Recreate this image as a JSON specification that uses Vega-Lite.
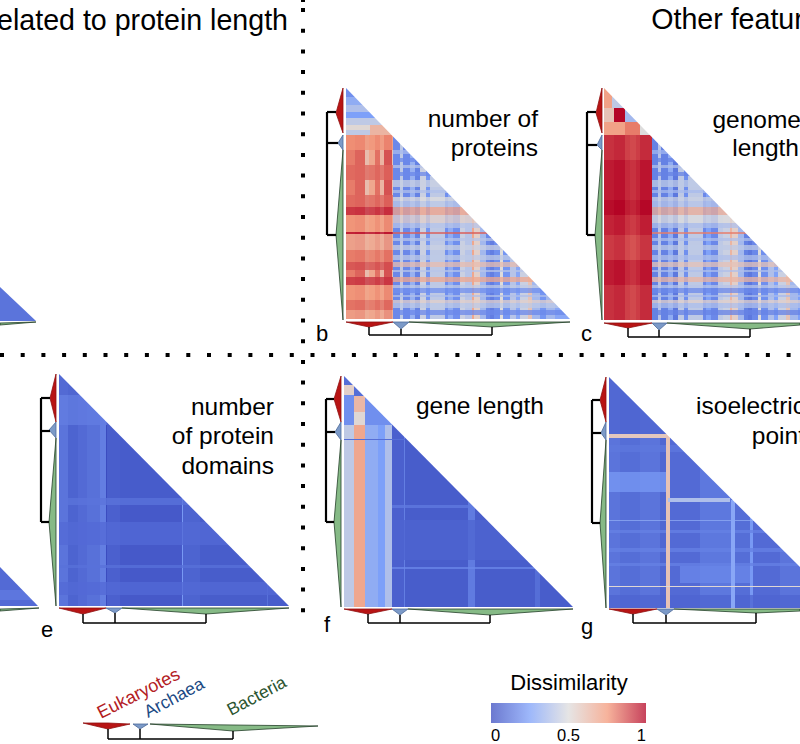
{"$schema":"https://vega.github.io/schema/vega-lite/v6.json","width":800,"height":744,"padding":0,"autosize":{"type":"none"},"background":"white","config":{"font":"Liberation Sans","view":{"stroke":null}},
"datasets":{
"cols":[
{"x":0,"x2":36,"y":287,"y2":321,"v":0.12},{"x":0,"x2":38,"y":567,"y2":606,"v":0.09},
{"x":346,"x2":355,"y":135,"y2":319,"v":0.8},{"x":355,"x2":365,"y":135,"y2":319,"v":0.84},{"x":365,"x2":369,"y":135,"y2":319,"v":0.62},{"x":369,"x2":375,"y":135,"y2":319,"v":0.7},{"x":375,"x2":380,"y":135,"y2":319,"v":0.82},{"x":380,"x2":384,"y":135,"y2":319,"v":0.65},{"x":384,"x2":392,"y":135,"y2":319,"v":0.87},{"x":392,"x2":393,"y":135,"y2":319,"v":0.6},
{"x":393,"x2":400,"y":88,"y2":319,"v":0.18},{"x":400,"x2":403,"y":88,"y2":319,"v":0.42},{"x":403,"x2":410,"y":88,"y2":319,"v":0.18},{"x":410,"x2":415,"y":88,"y2":319,"v":0.32},{"x":415,"x2":420,"y":88,"y2":319,"v":0.16},{"x":420,"x2":426,"y":88,"y2":319,"v":0.45},{"x":426,"x2":430,"y":88,"y2":319,"v":0.22},{"x":430,"x2":445,"y":88,"y2":319,"v":0.42},{"x":445,"x2":448,"y":88,"y2":319,"v":0.2},{"x":448,"x2":453,"y":88,"y2":319,"v":0.3},{"x":453,"x2":460,"y":88,"y2":319,"v":0.2},{"x":460,"x2":465,"y":88,"y2":319,"v":0.45},{"x":465,"x2":472,"y":88,"y2":319,"v":0.4},{"x":472,"x2":474,"y":88,"y2":319,"v":0.7},{"x":474,"x2":480,"y":88,"y2":319,"v":0.55},{"x":480,"x2":486,"y":88,"y2":319,"v":0.35},{"x":486,"x2":490,"y":88,"y2":319,"v":0.18},{"x":490,"x2":494,"y":88,"y2":319,"v":0.15},{"x":494,"x2":500,"y":88,"y2":319,"v":0.2},{"x":500,"x2":503,"y":88,"y2":319,"v":0.5},{"x":503,"x2":510,"y":88,"y2":319,"v":0.22},{"x":510,"x2":516,"y":88,"y2":319,"v":0.4},{"x":516,"x2":520,"y":88,"y2":319,"v":0.28},{"x":520,"x2":528,"y":88,"y2":319,"v":0.45},{"x":528,"x2":532,"y":88,"y2":319,"v":0.6},{"x":532,"x2":540,"y":88,"y2":319,"v":0.35},{"x":540,"x2":546,"y":88,"y2":319,"v":0.22},{"x":546,"x2":555,"y":88,"y2":319,"v":0.35},{"x":555,"x2":570,"y":88,"y2":319,"v":0.28},
{"x":604,"x2":614,"y":135,"y2":320,"v":0.94},{"x":614,"x2":625,"y":135,"y2":320,"v":1},{"x":625,"x2":630,"y":135,"y2":320,"v":0.84},{"x":630,"x2":636,"y":135,"y2":320,"v":0.78},{"x":636,"x2":640,"y":135,"y2":320,"v":0.86},{"x":640,"x2":652,"y":135,"y2":320,"v":0.98},
{"x":652,"x2":658,"y":88,"y2":320,"v":0.16},{"x":658,"x2":661,"y":88,"y2":320,"v":0.4},{"x":661,"x2":668,"y":88,"y2":320,"v":0.16},{"x":668,"x2":673,"y":88,"y2":320,"v":0.3},{"x":673,"x2":678,"y":88,"y2":320,"v":0.13},{"x":678,"x2":684,"y":88,"y2":320,"v":0.42},{"x":684,"x2":688,"y":88,"y2":320,"v":0.2},{"x":688,"x2":703,"y":88,"y2":320,"v":0.42},{"x":703,"x2":706,"y":88,"y2":320,"v":0.18},{"x":706,"x2":711,"y":88,"y2":320,"v":0.26},{"x":711,"x2":718,"y":88,"y2":320,"v":0.18},{"x":718,"x2":723,"y":88,"y2":320,"v":0.42},{"x":723,"x2":730,"y":88,"y2":320,"v":0.45},{"x":730,"x2":732,"y":88,"y2":320,"v":0.65},{"x":732,"x2":738,"y":88,"y2":320,"v":0.55},{"x":738,"x2":744,"y":88,"y2":320,"v":0.35},{"x":744,"x2":748,"y":88,"y2":320,"v":0.16},{"x":748,"x2":752,"y":88,"y2":320,"v":0.13},{"x":752,"x2":758,"y":88,"y2":320,"v":0.18},{"x":758,"x2":761,"y":88,"y2":320,"v":0.5},{"x":761,"x2":768,"y":88,"y2":320,"v":0.2},{"x":768,"x2":774,"y":88,"y2":320,"v":0.38},{"x":774,"x2":778,"y":88,"y2":320,"v":0.26},{"x":778,"x2":786,"y":88,"y2":320,"v":0.45},{"x":786,"x2":790,"y":88,"y2":320,"v":0.6},{"x":790,"x2":798,"y":88,"y2":320,"v":0.35},{"x":798,"x2":800,"y":88,"y2":320,"v":0.25},
{"x":59,"x2":68,"y":374,"y2":606,"v":0.12},{"x":68,"x2":78,"y":374,"y2":606,"v":0.07},{"x":78,"x2":87,"y":374,"y2":606,"v":0.09},{"x":87,"x2":100,"y":374,"y2":606,"v":0.11},{"x":100,"x2":106,"y":374,"y2":606,"v":0.15},{"x":106,"x2":107,"y":374,"y2":606,"v":0},{"x":107,"x2":120,"y":374,"y2":606,"v":0.06},{"x":120,"x2":182,"y":374,"y2":606,"v":0.04},{"x":182,"x2":183,"y":374,"y2":606,"v":0.23},{"x":183,"x2":200,"y":374,"y2":606,"v":0.07},{"x":200,"x2":267,"y":374,"y2":606,"v":0.05},{"x":267,"x2":268,"y":374,"y2":606,"v":0.11},{"x":268,"x2":289,"y":374,"y2":606,"v":0.05},
{"x":344,"x2":354,"y":425,"y2":607,"v":0.42},{"x":354,"x2":365,"y":425,"y2":607,"v":0.7},{"x":365,"x2":378,"y":425,"y2":607,"v":0.3},{"x":378,"x2":385,"y":425,"y2":607,"v":0.25},{"x":385,"x2":392,"y":425,"y2":607,"v":0.38},{"x":392,"x2":404,"y":376,"y2":607,"v":0.06},{"x":404,"x2":405,"y":376,"y2":607,"v":0.15},{"x":405,"x2":468,"y":376,"y2":607,"v":0.05},{"x":468,"x2":475,"y":376,"y2":607,"v":0.14},{"x":475,"x2":535,"y":376,"y2":607,"v":0.05},{"x":535,"x2":540,"y":376,"y2":607,"v":0.1},{"x":540,"x2":573,"y":376,"y2":607,"v":0.05},
{"x":609,"x2":620,"y":377,"y2":608,"v":0.12},{"x":620,"x2":640,"y":377,"y2":608,"v":0.1},{"x":640,"x2":660,"y":377,"y2":608,"v":0.12},{"x":660,"x2":666,"y":377,"y2":608,"v":0.08},{"x":666,"x2":670,"y":377,"y2":608,"v":0.08},{"x":670,"x2":700,"y":377,"y2":608,"v":0.09},{"x":700,"x2":731,"y":377,"y2":608,"v":0.13},{"x":731,"x2":735,"y":377,"y2":608,"v":0.1},{"x":735,"x2":750,"y":377,"y2":608,"v":0.1},{"x":750,"x2":753,"y":377,"y2":608,"v":0.23},{"x":753,"x2":780,"y":377,"y2":608,"v":0.09},{"x":780,"x2":800,"y":377,"y2":608,"v":0.12}
],
"rows":[
{"x":346,"x2":393,"y":135,"y2":150,"v":0.76},{"x":346,"x2":393,"y":165,"y2":180,"v":0.84},{"x":346,"x2":393,"y":195,"y2":207,"v":0.84},{"x":346,"x2":393,"y":207,"y2":215,"v":0.95},{"x":346,"x2":393,"y":215,"y2":232,"v":0.74},{"x":346,"x2":393,"y":232,"y2":234,"v":1},{"x":346,"x2":393,"y":234,"y2":250,"v":0.68},{"x":346,"x2":393,"y":250,"y2":262,"v":0.8},{"x":346,"x2":393,"y":262,"y2":270,"v":0.88},{"x":346,"x2":393,"y":277,"y2":285,"v":0.93},{"x":346,"x2":393,"y":285,"y2":300,"v":0.74},{"x":346,"x2":393,"y":300,"y2":310,"v":0.82},{"x":346,"x2":393,"y":310,"y2":319,"v":0.7},
{"x":393,"x2":570,"y":150,"y2":154,"v":0.36},{"x":393,"x2":570,"y":158,"y2":162,"v":0.18},{"x":393,"x2":570,"y":165,"y2":168,"v":0.4},{"x":393,"x2":570,"y":172,"y2":176,"v":0.18},{"x":393,"x2":570,"y":180,"y2":187,"v":0.45},{"x":393,"x2":570,"y":190,"y2":193,"v":0.38},{"x":393,"x2":570,"y":197,"y2":201,"v":0.5},{"x":393,"x2":570,"y":201,"y2":207,"v":0.42},{"x":393,"x2":570,"y":207,"y2":215,"v":0.72},{"x":393,"x2":570,"y":215,"y2":223,"v":0.55},{"x":393,"x2":570,"y":223,"y2":228,"v":0.4},{"x":393,"x2":570,"y":232,"y2":234,"v":0.85},{"x":393,"x2":570,"y":238,"y2":241,"v":0.4},{"x":393,"x2":570,"y":245,"y2":250,"v":0.45},{"x":393,"x2":570,"y":255,"y2":260,"v":0.42},{"x":393,"x2":570,"y":262,"y2":267,"v":0.62},{"x":393,"x2":570,"y":270,"y2":272,"v":0.4},{"x":393,"x2":570,"y":277,"y2":282,"v":0.7},{"x":393,"x2":570,"y":285,"y2":288,"v":0.42},{"x":393,"x2":570,"y":288,"y2":293,"v":0.2},{"x":393,"x2":570,"y":295,"y2":297,"v":0.38},{"x":393,"x2":570,"y":300,"y2":303,"v":0.55},{"x":393,"x2":570,"y":303,"y2":308,"v":0.42},{"x":393,"x2":570,"y":310,"y2":315,"v":0.18},
{"x":604,"x2":652,"y":135,"y2":160,"v":0.92},{"x":604,"x2":652,"y":160,"y2":200,"v":0.97},{"x":604,"x2":652,"y":200,"y2":215,"v":1},{"x":604,"x2":652,"y":215,"y2":235,"v":0.95},{"x":604,"x2":652,"y":235,"y2":260,"v":0.9},{"x":604,"x2":652,"y":260,"y2":285,"v":0.97},{"x":604,"x2":652,"y":285,"y2":320,"v":0.92},
{"x":652,"x2":800,"y":150,"y2":154,"v":0.34},{"x":652,"x2":800,"y":158,"y2":162,"v":0.16},{"x":652,"x2":800,"y":165,"y2":168,"v":0.38},{"x":652,"x2":800,"y":172,"y2":176,"v":0.16},{"x":652,"x2":800,"y":180,"y2":187,"v":0.42},{"x":652,"x2":800,"y":190,"y2":193,"v":0.36},{"x":652,"x2":800,"y":197,"y2":201,"v":0.45},{"x":652,"x2":800,"y":201,"y2":207,"v":0.4},{"x":652,"x2":800,"y":207,"y2":215,"v":0.68},{"x":652,"x2":800,"y":215,"y2":223,"v":0.5},{"x":652,"x2":800,"y":223,"y2":228,"v":0.38},{"x":652,"x2":800,"y":232,"y2":234,"v":0.8},{"x":652,"x2":800,"y":238,"y2":241,"v":0.38},{"x":652,"x2":800,"y":245,"y2":250,"v":0.42},{"x":652,"x2":800,"y":255,"y2":260,"v":0.38},{"x":652,"x2":800,"y":262,"y2":267,"v":0.6},{"x":652,"x2":800,"y":270,"y2":272,"v":0.38},{"x":652,"x2":800,"y":277,"y2":282,"v":0.65},{"x":652,"x2":800,"y":285,"y2":288,"v":0.4},{"x":652,"x2":800,"y":288,"y2":293,"v":0.18},{"x":652,"x2":800,"y":295,"y2":297,"v":0.36},{"x":652,"x2":800,"y":300,"y2":303,"v":0.55},{"x":652,"x2":800,"y":303,"y2":308,"v":0.38},{"x":652,"x2":800,"y":310,"y2":315,"v":0.16},
{"x":59,"x2":289,"y":374,"y2":395,"v":0.08},{"x":59,"x2":107,"y":395,"y2":425,"v":0.15},{"x":107,"x2":289,"y":425,"y2":498,"v":0.05},{"x":59,"x2":289,"y":498,"y2":505,"v":0.12},{"x":59,"x2":289,"y":522,"y2":545,"v":0.09},{"x":59,"x2":289,"y":565,"y2":568,"v":0.11},{"x":59,"x2":289,"y":582,"y2":595,"v":0.09},{"x":0,"x2":38,"y":590,"y2":600,"v":0.14},
{"x":392,"x2":573,"y":505,"y2":508,"v":0.14},{"x":392,"x2":573,"y":567,"y2":569,"v":0.18},{"x":392,"x2":573,"y":520,"y2":560,"v":0.07},
{"x":609,"x2":800,"y":377,"y2":434,"v":0.07},{"x":609,"x2":800,"y":445,"y2":452,"v":0.13},{"x":609,"x2":666,"y":472,"y2":492,"v":0.23},{"x":609,"x2":800,"y":520,"y2":521,"v":0.3},{"x":609,"x2":800,"y":530,"y2":533,"v":0.16},{"x":609,"x2":800,"y":548,"y2":552,"v":0.16},{"x":609,"x2":800,"y":563,"y2":566,"v":0.16},{"x":680,"x2":750,"y":566,"y2":583,"v":0.18},{"x":609,"x2":800,"y":595,"y2":608,"v":0.07}
],
"lines":[
{"x":346,"x2":393,"y":88,"y2":97,"v":0.2},{"x":346,"x2":393,"y":97,"y2":105,"v":0.3},{"x":346,"x2":393,"y":105,"y2":112,"v":0.38},{"x":346,"x2":393,"y":112,"y2":118,"v":0.25},{"x":346,"x2":393,"y":118,"y2":125,"v":0.42},{"x":346,"x2":370,"y":125,"y2":130,"v":0.52},{"x":370,"x2":393,"y":125,"y2":135,"v":0.65},{"x":346,"x2":370,"y":130,"y2":135,"v":0.42},
{"x":604,"x2":612,"y":88,"y2":108,"v":0.72},{"x":612,"x2":640,"y":88,"y2":108,"v":0.42},{"x":604,"x2":614,"y":108,"y2":122,"v":0.6},{"x":614,"x2":625,"y":108,"y2":122,"v":1},{"x":625,"x2":652,"y":108,"y2":122,"v":0.35},{"x":604,"x2":625,"y":122,"y2":135,"v":0.72},{"x":625,"x2":640,"y":122,"y2":135,"v":0.8},{"x":640,"x2":652,"y":122,"y2":135,"v":0.5},
{"x":344,"x2":392,"y":376,"y2":385,"v":0.1},{"x":344,"x2":354,"y":385,"y2":395,"v":0.55},{"x":354,"x2":392,"y":385,"y2":396,"v":0.1},{"x":344,"x2":354,"y":395,"y2":425,"v":0.2},{"x":354,"x2":365,"y":396,"y2":412,"v":0.64},{"x":354,"x2":365,"y":412,"y2":425,"v":0.52},{"x":365,"x2":392,"y":396,"y2":425,"v":0.2},{"x":344,"x2":405,"y":439,"y2":440,"v":0.1},
{"x":609,"x2":668,"y":434,"y2":438,"v":0.58},{"x":666,"x2":670,"y":434,"y2":608,"v":0.6},{"x":668,"x2":730,"y":498,"y2":502,"v":0.38},{"x":731,"x2":735,"y":500,"y2":608,"v":0.28},{"x":609,"x2":800,"y":586,"y2":587,"v":0.52}
],
"diag":[
{"g":"a","x":0,"y":287,"y2":287},{"g":"a","x":36,"y":321,"y2":287},{"g":"d","x":0,"y":567,"y2":567},{"g":"d","x":38,"y":606,"y2":567},
{"g":"b","x":346,"y":88,"y2":88},{"g":"b","x":570,"y":319,"y2":88},{"g":"c","x":604,"y":88,"y2":88},{"g":"c","x":800,"y":289,"y2":88},{"g":"e","x":59,"y":374,"y2":374},{"g":"e","x":289,"y":606,"y2":374},{"g":"f","x":344,"y":376,"y2":376},{"g":"f","x":573,"y":607,"y2":376},{"g":"g","x":609,"y":377,"y2":377},{"g":"g","x":800,"y":567,"y2":377}
],
"treeLeft":[
{"g":"b","c":"Eukaryotes","y":88,"x":343,"x2":343},{"g":"b","c":"Eukaryotes","y":113,"x":336,"x2":343},{"g":"b","c":"Eukaryotes","y":133,"x":343,"x2":343},{"g":"b","c":"Archaea","y":135,"x":343,"x2":343},{"g":"b","c":"Archaea","y":143,"x":338,"x2":343},{"g":"b","c":"Archaea","y":150,"x":343,"x2":343},{"g":"b","c":"Bacteria","y":150,"x":343,"x2":343},{"g":"b","c":"Bacteria","y":235,"x":336,"x2":343},{"g":"b","c":"Bacteria","y":320,"x":343,"x2":343},
{"g":"c","c":"Eukaryotes","y":88,"x":602,"x2":602},{"g":"c","c":"Eukaryotes","y":113,"x":596,"x2":602},{"g":"c","c":"Eukaryotes","y":133,"x":602,"x2":602},{"g":"c","c":"Archaea","y":135,"x":602,"x2":602},{"g":"c","c":"Archaea","y":145,"x":597,"x2":602},{"g":"c","c":"Archaea","y":150,"x":602,"x2":602},{"g":"c","c":"Bacteria","y":150,"x":602,"x2":602},{"g":"c","c":"Bacteria","y":235,"x":595,"x2":602},{"g":"c","c":"Bacteria","y":320,"x":602,"x2":602},
{"g":"e","c":"Eukaryotes","y":374,"x":56,"x2":56},{"g":"e","c":"Eukaryotes","y":398,"x":50,"x2":56},{"g":"e","c":"Eukaryotes","y":422,"x":56,"x2":56},{"g":"e","c":"Archaea","y":422,"x":56,"x2":56},{"g":"e","c":"Archaea","y":430,"x":49,"x2":56},{"g":"e","c":"Archaea","y":438,"x":56,"x2":56},{"g":"e","c":"Bacteria","y":438,"x":56,"x2":56},{"g":"e","c":"Bacteria","y":522,"x":49,"x2":56},{"g":"e","c":"Bacteria","y":606,"x":56,"x2":56},
{"g":"f","c":"Eukaryotes","y":376,"x":341,"x2":341},{"g":"f","c":"Eukaryotes","y":399,"x":334,"x2":341},{"g":"f","c":"Eukaryotes","y":422,"x":341,"x2":341},{"g":"f","c":"Archaea","y":422,"x":341,"x2":341},{"g":"f","c":"Archaea","y":432,"x":335,"x2":341},{"g":"f","c":"Archaea","y":440,"x":341,"x2":341},{"g":"f","c":"Bacteria","y":440,"x":341,"x2":341},{"g":"f","c":"Bacteria","y":522,"x":334,"x2":341},{"g":"f","c":"Bacteria","y":607,"x":341,"x2":341},
{"g":"g","c":"Eukaryotes","y":377,"x":606,"x2":606},{"g":"g","c":"Eukaryotes","y":400,"x":600,"x2":606},{"g":"g","c":"Eukaryotes","y":422,"x":606,"x2":606},{"g":"g","c":"Archaea","y":422,"x":606,"x2":606},{"g":"g","c":"Archaea","y":433,"x":601,"x2":606},{"g":"g","c":"Archaea","y":440,"x":606,"x2":606},{"g":"g","c":"Bacteria","y":440,"x":606,"x2":606},{"g":"g","c":"Bacteria","y":523,"x":600,"x2":606},{"g":"g","c":"Bacteria","y":608,"x":606,"x2":606}
],
"treeBottom":[
{"g":"a","c":"Bacteria","x":0,"y":325,"y2":323},{"g":"a","c":"Bacteria","x":36,"y":322,"y2":322},
{"g":"d","c":"Bacteria","x":0,"y":611,"y2":609},{"g":"d","c":"Bacteria","x":39,"y":608,"y2":608},
{"g":"b","c":"Eukaryotes","x":346,"y":322,"y2":322},{"g":"b","c":"Eukaryotes","x":369,"y":327,"y2":322},{"g":"b","c":"Eukaryotes","x":393,"y":322,"y2":322},{"g":"b","c":"Archaea","x":393,"y":322,"y2":322},{"g":"b","c":"Archaea","x":401,"y":329,"y2":322},{"g":"b","c":"Archaea","x":409,"y":322,"y2":322},{"g":"b","c":"Bacteria","x":409,"y":322,"y2":322},{"g":"b","c":"Bacteria","x":492,"y":327,"y2":322},{"g":"b","c":"Bacteria","x":570,"y":322,"y2":322},
{"g":"c","c":"Eukaryotes","x":604,"y":323,"y2":323},{"g":"c","c":"Eukaryotes","x":628,"y":328,"y2":323},{"g":"c","c":"Eukaryotes","x":652,"y":323,"y2":323},{"g":"c","c":"Archaea","x":652,"y":323,"y2":323},{"g":"c","c":"Archaea","x":659,"y":330,"y2":323},{"g":"c","c":"Archaea","x":667,"y":323,"y2":323},{"g":"c","c":"Bacteria","x":667,"y":323,"y2":323},{"g":"c","c":"Bacteria","x":750,"y":329,"y2":323},{"g":"c","c":"Bacteria","x":800,"y":325,"y2":323},
{"g":"e","c":"Eukaryotes","x":59,"y":608,"y2":608},{"g":"e","c":"Eukaryotes","x":83,"y":614,"y2":608},{"g":"e","c":"Eukaryotes","x":106,"y":608,"y2":608},{"g":"e","c":"Archaea","x":106,"y":608,"y2":608},{"g":"e","c":"Archaea","x":115,"y":613,"y2":608},{"g":"e","c":"Archaea","x":122,"y":608,"y2":608},{"g":"e","c":"Bacteria","x":122,"y":608,"y2":608},{"g":"e","c":"Bacteria","x":206,"y":614,"y2":608},{"g":"e","c":"Bacteria","x":289,"y":608,"y2":608},
{"g":"f","c":"Eukaryotes","x":344,"y":609,"y2":609},{"g":"f","c":"Eukaryotes","x":368,"y":614,"y2":609},{"g":"f","c":"Eukaryotes","x":392,"y":609,"y2":609},{"g":"f","c":"Archaea","x":392,"y":609,"y2":609},{"g":"f","c":"Archaea","x":400,"y":615,"y2":609},{"g":"f","c":"Archaea","x":408,"y":609,"y2":609},{"g":"f","c":"Bacteria","x":408,"y":609,"y2":609},{"g":"f","c":"Bacteria","x":490,"y":615,"y2":609},{"g":"f","c":"Bacteria","x":573,"y":609,"y2":609},
{"g":"g","c":"Eukaryotes","x":609,"y":609,"y2":609},{"g":"g","c":"Eukaryotes","x":633,"y":614,"y2":609},{"g":"g","c":"Eukaryotes","x":657,"y":609,"y2":609},{"g":"g","c":"Archaea","x":657,"y":609,"y2":609},{"g":"g","c":"Archaea","x":666,"y":615,"y2":609},{"g":"g","c":"Archaea","x":674,"y":609,"y2":609},{"g":"g","c":"Bacteria","x":674,"y":609,"y2":609},{"g":"g","c":"Bacteria","x":756,"y":613,"y2":609},{"g":"g","c":"Bacteria","x":800,"y":611,"y2":609},
{"g":"k","c":"Eukaryotes","x":83,"y":723,"y2":723},{"g":"k","c":"Eukaryotes","x":108,"y":729,"y2":723},{"g":"k","c":"Eukaryotes","x":130,"y":724,"y2":724},{"g":"k","c":"Archaea","x":133,"y":724,"y2":724},{"g":"k","c":"Archaea","x":140,"y":729,"y2":724},{"g":"k","c":"Archaea","x":148,"y":724,"y2":724},{"g":"k","c":"Bacteria","x":150,"y":724,"y2":724},{"g":"k","c":"Bacteria","x":233,"y":731,"y2":725},{"g":"k","c":"Bacteria","x":318,"y":726,"y2":726}
],
"bracketLeft":[
{"x":327,"x2":327,"y":112,"y2":235},{"x":327,"x2":336,"y":112,"y2":112},{"x":327,"x2":338,"y":143,"y2":143},{"x":327,"x2":336,"y":235,"y2":235},
{"x":587,"x2":587,"y":112,"y2":235},{"x":587,"x2":596,"y":112,"y2":112},{"x":587,"x2":597,"y":145,"y2":145},{"x":587,"x2":595,"y":235,"y2":235},
{"x":41,"x2":41,"y":398,"y2":522},{"x":41,"x2":50,"y":398,"y2":398},{"x":41,"x2":50,"y":431,"y2":431},{"x":41,"x2":49,"y":522,"y2":522},
{"x":326,"x2":326,"y":399,"y2":522},{"x":326,"x2":334,"y":399,"y2":399},{"x":326,"x2":335,"y":432,"y2":432},{"x":326,"x2":334,"y":522,"y2":522},
{"x":592,"x2":592,"y":400,"y2":523},{"x":592,"x2":600,"y":400,"y2":400},{"x":592,"x2":601,"y":433,"y2":433},{"x":592,"x2":600,"y":523,"y2":523}
],
"bracketBottom":[
{"x":369,"x2":369,"y":327,"y2":335},{"x":401,"x2":401,"y":329,"y2":335},{"x":492,"x2":492,"y":327,"y2":335},{"x":369,"x2":492,"y":335,"y2":335},
{"x":628,"x2":628,"y":328,"y2":337},{"x":659,"x2":659,"y":330,"y2":337},{"x":750,"x2":750,"y":329,"y2":337},{"x":628,"x2":750,"y":337,"y2":337},
{"x":83,"x2":83,"y":614,"y2":623},{"x":115,"x2":115,"y":613,"y2":623},{"x":206,"x2":206,"y":614,"y2":623},{"x":83,"x2":206,"y":623,"y2":623},
{"x":368,"x2":368,"y":614,"y2":623},{"x":400,"x2":400,"y":615,"y2":623},{"x":490,"x2":490,"y":615,"y2":623},{"x":368,"x2":490,"y":623,"y2":623},
{"x":633,"x2":633,"y":614,"y2":623},{"x":666,"x2":666,"y":615,"y2":623},{"x":756,"x2":756,"y":613,"y2":623},{"x":633,"x2":756,"y":623,"y2":623},
{"x":108,"x2":108,"y":729,"y2":739},{"x":140,"x2":140,"y":729,"y2":739},{"x":233,"x2":233,"y":731,"y2":739},{"x":108,"x2":233,"y":739,"y2":739}
]
},
"encoding":{"x":{"field":"x","type":"quantitative","axis":null,"scale":{"domain":[0,800],"range":[0,800],"nice":false,"zero":false}},"y":{"field":"y","type":"quantitative","axis":null,"scale":{"domain":[0,744],"range":[0,744],"nice":false,"zero":false}}},
"layer":[
{"data":{"name":"cols"},"mark":{"type":"rect"},"encoding":{"x2":{"field":"x2"},"y2":{"field":"y2"},"color":{"field":"v","type":"quantitative","title":"Dissimilarity","scale":{"domain":[0,0.25,0.5,0.75,1],"range":["#3b4cc0","#7da0f9","#dddcdc","#f49a7b","#b40426"],"interpolate":"rgb"},"legend":{"orient":"none","legendX":491,"legendY":673,"direction":"horizontal","gradientLength":155,"gradientThickness":20,"gradientOpacity":1,"values":[0,0.5,1],"format":"~g","titleFontSize":22,"titleFontWeight":"normal","titleColor":"black","titleAnchor":"middle","titlePadding":8,"labelFontSize":16.5,"labelColor":"black","labelOffset":5,"gradientStrokeWidth":0}}}},
{"data":{"name":"rows"},"mark":{"type":"rect","opacity":0.75},"encoding":{"x2":{"field":"x2"},"y2":{"field":"y2"},"color":{"field":"v","type":"quantitative","title":"Dissimilarity"}}},
{"data":{"name":"lines"},"mark":{"type":"rect"},"encoding":{"x2":{"field":"x2"},"y2":{"field":"y2"},"color":{"field":"v","type":"quantitative","title":"Dissimilarity"}}},
{"data":{"name":"diag"},"mark":{"type":"area","fill":"white","orient":"vertical"},"encoding":{"y2":{"field":"y2"},"detail":{"field":"g"}}},
{"data":{"name":"treeLeft"},"mark":{"type":"area","orient":"horizontal","strokeWidth":0.8},"encoding":{"x2":{"field":"x2"},"detail":{"field":"g"},"fill":{"field":"c","type":"nominal","legend":null,"scale":{"domain":["Eukaryotes","Archaea","Bacteria"],"range":["#b81414","#7c9ac8","#86ba86"]}},"stroke":{"field":"c","type":"nominal","legend":null,"scale":{"domain":["Eukaryotes","Archaea","Bacteria"],"range":["#8f1010","#4d6a99","#24402a"]}}}},
{"data":{"name":"treeBottom"},"mark":{"type":"area","orient":"vertical","strokeWidth":0.8},"encoding":{"y2":{"field":"y2"},"detail":{"field":"g"},"fill":{"field":"c","type":"nominal","legend":null},"stroke":{"field":"c","type":"nominal","legend":null}}},
{"data":{"name":"bracketLeft"},"mark":{"type":"rule","color":"black","strokeWidth":2.2},"encoding":{"x2":{"field":"x2"},"y2":{"field":"y2"}}},
{"data":{"name":"bracketBottom"},"mark":{"type":"rule","color":"black","strokeWidth":1.5},"encoding":{"x2":{"field":"x2"},"y2":{"field":"y2"}}},
{"data":{"values":[{"x":303,"x2":303,"y":8,"y2":626},{"x":0,"x2":800,"y":355,"y2":355},{"x":303,"x2":303,"y":0,"y2":2}]},"mark":{"type":"rule","color":"black","strokeWidth":4,"strokeDash":[4,16.7]},"encoding":{"x2":{"field":"x2"},"y2":{"field":"y2"}}},
{"data":{"values":[{"t":"number of","x":538,"y":127},{"t":"proteins","x":538,"y":156},{"t":"genome","x":801,"y":128},{"t":"length","x":799,"y":156},{"t":"number","x":274,"y":415},{"t":"of protein","x":274,"y":444},{"t":"domains","x":274,"y":474},{"t":"gene length","x":544,"y":414},{"t":"isoelectric","x":805,"y":414},{"t":"point","x":805,"y":444}]},"mark":{"type":"text","fontSize":24.5,"align":"right","baseline":"alphabetic","color":"black"},"encoding":{"text":{"field":"t"}}},
{"data":{"values":[{"t":"related to protein length","x":288,"y":30},{"t":"Other features","x":834,"y":29}]},"mark":{"type":"text","fontSize":28.6,"align":"right","baseline":"alphabetic","color":"black"},"encoding":{"text":{"field":"t"}}},
{"data":{"values":[{"t":"b","x":316,"y":341},{"t":"c","x":581,"y":341},{"t":"e","x":41,"y":637},{"t":"f","x":324,"y":632},{"t":"g","x":581,"y":634}]},"mark":{"type":"text","fontSize":22,"align":"left","baseline":"alphabetic","color":"black"},"encoding":{"text":{"field":"t"}}},
{"data":{"values":[{"t":"Eukaryotes","x":101,"y":719}]},"mark":{"type":"text","fontSize":18,"angle":333,"align":"left","baseline":"alphabetic","color":"#b3201f"},"encoding":{"text":{"field":"t"}}},
{"data":{"values":[{"t":"Archaea","x":148,"y":718}]},"mark":{"type":"text","fontSize":17.5,"angle":332,"align":"left","baseline":"alphabetic","color":"#1c4a84"},"encoding":{"text":{"field":"t"}}},
{"data":{"values":[{"t":"Bacteria","x":231,"y":716}]},"mark":{"type":"text","fontSize":17.5,"angle":332,"align":"left","baseline":"alphabetic","color":"#2c5530"},"encoding":{"text":{"field":"t"}}}
]}
